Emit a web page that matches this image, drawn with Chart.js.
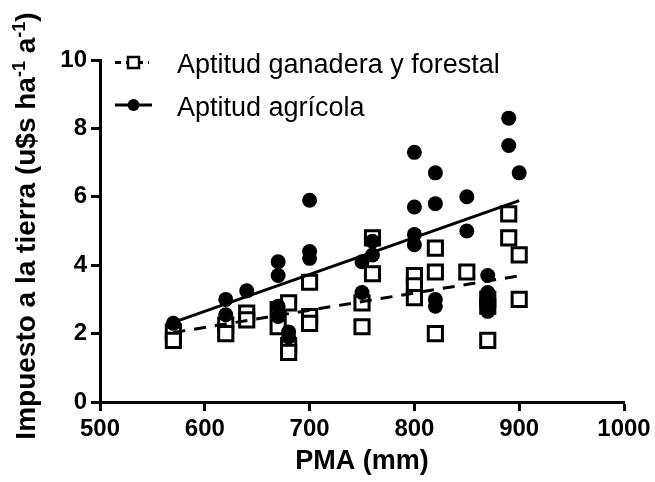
<!DOCTYPE html>
<html>
<head>
<meta charset="utf-8">
<script src="https://cdn.jsdelivr.net/npm/chart.js@4.4.1/dist/chart.umd.min.js"></script>
<style>
  html, body { margin: 0; padding: 0; background: #fff; }
  #wrap { width: 655px; height: 482px; position: relative; }
</style>
</head>
<body>
<div id="wrap"><canvas id="c" width="655" height="482"></canvas></div>
<script>
// ---- Data ----
const ganaderaX = [570, 570, 620, 620, 640, 640, 670, 670, 680, 680, 680, 700, 700, 700, 750, 750, 760, 760, 800, 800, 800, 820, 820, 820, 850, 870, 870, 870, 890, 890, 900, 900];
const ganaderaY = [2.05, 1.8, 2.25, 2.0, 2.6, 2.4, 2.7, 2.2, 2.9, 1.65, 1.45, 3.5, 2.5, 2.3, 2.9, 2.2, 4.8, 3.75, 3.7, 3.4, 3.05, 4.5, 3.8, 2.0, 3.8, 3.0, 2.8, 1.8, 5.5, 4.8, 4.3, 3.0];

const agricolaX = [570, 620, 620, 640, 670, 670, 670, 670, 680, 680, 700, 700, 700, 750, 750, 760, 760, 800, 800, 800, 800, 820, 820, 820, 820, 850, 850, 870, 870, 870, 870, 890, 890, 900];
const agricolaY = [2.3, 3.0, 2.55, 3.25, 4.1, 3.7, 2.8, 2.5, 2.05, 1.9, 5.9, 4.4, 4.2, 4.1, 3.2, 4.7, 4.3, 7.3, 5.7, 4.9, 4.6, 6.7, 5.8, 3.0, 2.8, 6.0, 5.0, 3.7, 3.2, 2.9, 2.65, 8.3, 7.5, 6.7];

// fitted lines (end points)
const fitGanaderaX = [570, 900];
const fitGanaderaY = [2.03, 3.69];
const fitAgricolaX = [570, 900];
const fitAgricolaY = [2.33, 5.89];

const xTicks = [500, 600, 700, 800, 900, 1000];
const yTicks = [0, 2, 4, 6, 8, 10];

const seriesNames = ['Aptitud ganadera y forestal', 'Aptitud agrícola'];
const xTitle = 'PMA (mm)';
const yTitleParts = [
  { t: 'Impuesto a la tierra (u$s ha', sup: false },
  { t: '-1', sup: true },
  { t: ' a', sup: false },
  { t: '-1', sup: true },
  { t: ')', sup: false }
];

const toPts = (xs, ys) => xs.map((x, i) => ({ x: x, y: ys[i] }));

const FONT = 'Liberation Sans, Arial, sans-serif';

const customDraw = {
  id: 'customDraw',
  afterDraw(chart) {
    const ctx = chart.ctx;
    ctx.save();
    // ---- Y axis title with superscripts ----
    const mainFont = 'bold 28px ' + FONT;
    const supFont = 'bold 18px ' + FONT;
    let total = 0;
    yTitleParts.forEach(p => {
      ctx.font = p.sup ? supFont : mainFont;
      p.w = ctx.measureText(p.t).width;
      total += p.w;
    });
    const cy = (chart.chartArea.top + chart.chartArea.bottom) / 2 - 5;
    ctx.translate(35, cy);
    ctx.rotate(-Math.PI / 2);
    ctx.fillStyle = '#000';
    ctx.textBaseline = 'alphabetic';
    ctx.textAlign = 'left';
    let x = -total / 2;
    yTitleParts.forEach(p => {
      ctx.font = p.sup ? supFont : mainFont;
      ctx.fillText(p.t, x, p.sup ? -10 : 0);
      x += p.w;
    });
    ctx.restore();

    // ---- Legend ----
    ctx.save();
    ctx.strokeStyle = '#000';
    ctx.fillStyle = '#000';
    ctx.lineWidth = 3;
    // row 1: dashed + open square
    const r1 = 62.5;
    ctx.setLineDash([6, 5]);
    ctx.beginPath(); ctx.moveTo(115, r1); ctx.lineTo(149, r1); ctx.stroke();
    ctx.setLineDash([]);
    ctx.fillStyle = '#fff';
    ctx.lineWidth = 2.5;
    ctx.fillRect(128, r1 - 5.5, 11, 11);
    ctx.strokeRect(128, r1 - 5.5, 11, 11);
    // row 2: solid + filled circle
    const r2 = 105;
    ctx.lineWidth = 3;
    ctx.beginPath(); ctx.moveTo(115, r2); ctx.lineTo(152, r2); ctx.stroke();
    ctx.fillStyle = '#000';
    ctx.beginPath(); ctx.arc(133.5, r2, 6, 0, Math.PI * 2); ctx.fill();
    // texts
    ctx.font = '27px ' + FONT;
    ctx.textBaseline = 'alphabetic';
    ctx.textAlign = 'left';
    ctx.fillText(seriesNames[0], 177, 73);
    ctx.fillText(seriesNames[1], 177, 116);
    ctx.restore();
  }
};

const axisCommon = {
  grid: { display: true, drawOnChartArea: false, drawTicks: true, tickLength: 9, tickWidth: 3, tickColor: '#000', color: '#000' },
  border: { display: true, color: '#000', width: 3 }
};

new Chart(document.getElementById('c'), {
  type: 'scatter',
  data: {
    datasets: [
      {
        label: 'fit agricola',
        type: 'line',
        data: toPts(fitAgricolaX, fitAgricolaY),
        borderColor: '#000', borderWidth: 3, pointRadius: 0, fill: false, showLine: true,
        order: 0
      },
      {
        label: 'fit ganadera',
        type: 'line',
        data: toPts(fitGanaderaX, fitGanaderaY),
        borderColor: '#000', borderWidth: 3, borderDash: [12, 9], pointRadius: 0, fill: false, showLine: true,
        order: 0
      },
      {
        label: seriesNames[1],
        data: toPts(agricolaX, agricolaY),
        pointStyle: 'circle', pointRadius: 7.5, pointBackgroundColor: '#000', pointBorderColor: '#000', pointBorderWidth: 0,
        showLine: false, order: 1
      },
      {
        label: seriesNames[0],
        data: toPts(ganaderaX, ganaderaY),
        pointStyle: 'rect', pointRadius: 10, pointBackgroundColor: '#fff', pointBorderColor: '#000', pointBorderWidth: 3,
        showLine: false, order: 2
      }
    ]
  },
  options: {
    responsive: false,
    animation: false,
    devicePixelRatio: 1,
    layout: { padding: { top: 60, right: 31, left: 0, bottom: 0 } },
    plugins: { legend: { display: false }, tooltip: { enabled: false } },
    scales: {
      x: Object.assign({}, axisCommon, {
        type: 'linear', min: 500, max: 1000,
        afterBuildTicks: (s) => { s.ticks = xTicks.map(v => ({ value: v })); },
        afterFit: (s) => { s.height = 80; },
        ticks: { color: '#000', font: { family: FONT, size: 24, weight: 'bold' }, padding: 4, maxRotation: 0, callback: (v) => String(v) },
        title: { display: true, text: xTitle, color: '#000', font: { family: FONT, size: 27, weight: 'bold' }, padding: { top: 4, bottom: 4 } }
      }),
      y: Object.assign({}, axisCommon, {
        type: 'linear', min: 0, max: 10,
        afterBuildTicks: (s) => { s.ticks = yTicks.map(v => ({ value: v })); },
        afterFit: (s) => { s.width = 100; },
        ticks: { color: '#000', font: { family: FONT, size: 24, weight: 'bold' }, padding: 4, callback: (v) => String(v) }
      })
    }
  },
  plugins: [customDraw]
});
</script>
</body>
</html>
